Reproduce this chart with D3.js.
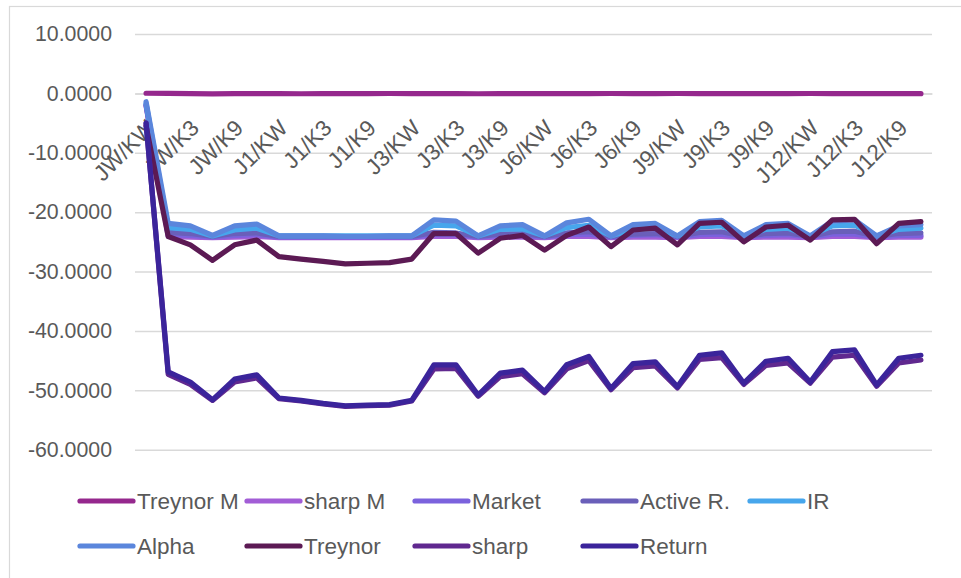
<!DOCTYPE html>
<html>
<head>
<meta charset="utf-8">
<script src="https://cdn.jsdelivr.net/npm/d3@7"></script>
<style>
  html, body { margin: 0; padding: 0; background: #ffffff; }
  svg { display: block; }
  text { font-family: "Liberation Sans", Arial, sans-serif; fill: #595959; }
</style>
</head>
<body>
<svg id="chart" width="961" height="578"></svg>
<script>
// Holding-period (J) / formation-period (K) combinations
const jPeriods = ["JW", "J1", "J3", "J6", "J9", "J12"];
const kPeriods = ["KW", "K1", "K3", "K6", "K9", "K12"];
const categories = jPeriods.flatMap(j => kPeriods.map(k => j + "/" + k));

const yTicks = [10, 0, -10, -20, -30, -40, -50, -60];

const seriesNames = ["Treynor M", "sharp M", "Market", "Active R.", "IR", "Alpha", "Treynor", "sharp", "Return"];
const seriesColors = ["#95288d", "#a25dd6", "#7b62dd", "#6a5fb9", "#47a6ec", "#5b86dc", "#5c1a54", "#60288f", "#3b249b"];

const treynorM = [0.02, 0.0, -0.05, -0.08, -0.05, -0.03, -0.05, -0.06, -0.05, -0.04, -0.03, -0.02,
  -0.04, -0.05, -0.03, -0.06, -0.05, -0.03, -0.04, -0.05, -0.03, -0.02, -0.04, -0.03,
  -0.02, -0.03, -0.04, -0.03, -0.05, -0.03, -0.02, -0.03, -0.04, -0.03, -0.05, -0.04];
const sharpM = [-2.1, -24.1, -24.2, -24.3, -24.2, -24.1, -24.3, -24.3, -24.3, -24.3, -24.3, -24.3,
  -24.3, -24.1, -24.1, -24.3, -24.2, -24.2, -24.3, -24.1, -24.1, -24.3, -24.2, -24.2,
  -24.3, -24.1, -24.1, -24.3, -24.2, -24.2, -24.3, -24.1, -24.1, -24.3, -24.2, -24.2];
const market = [-2.0, -23.8, -23.9, -24.2, -23.9, -23.8, -24.2, -24.2, -24.2, -24.2, -24.2, -24.2,
  -24.2, -23.8, -23.8, -24.2, -23.9, -23.9, -24.2, -23.8, -23.7, -24.2, -23.9, -23.8,
  -24.2, -23.8, -23.7, -24.2, -23.9, -23.8, -24.2, -23.7, -23.7, -24.2, -23.9, -23.9];
const activeR = [-1.9, -23.4, -23.6, -24.1, -23.6, -23.5, -24.1, -24.1, -24.1, -24.1, -24.1, -24.1,
  -24.1, -23.4, -23.5, -24.1, -23.7, -23.6, -24.1, -23.5, -23.3, -24.1, -23.7, -23.6,
  -24.1, -23.4, -23.3, -24.1, -23.6, -23.5, -24.1, -23.3, -23.2, -24.1, -23.6, -23.5];
const ir = [-1.7, -22.6, -22.9, -24.0, -23.0, -22.7, -24.0, -24.0, -24.0, -24.0, -24.0, -24.0,
  -24.0, -22.2, -22.3, -24.0, -22.9, -22.8, -24.0, -22.6, -22.2, -24.0, -22.9, -22.7,
  -24.0, -22.5, -22.3, -24.0, -22.9, -22.7, -24.0, -22.3, -22.2, -24.0, -22.9, -22.7];
const alpha = [-1.4, -21.9, -22.3, -23.9, -22.3, -22.0, -24.0, -24.0, -24.0, -24.1, -24.1, -24.0,
  -24.0, -21.3, -21.5, -24.0, -22.3, -22.1, -24.0, -21.8, -21.2, -24.0, -22.1, -21.9,
  -24.0, -21.6, -21.4, -24.0, -22.1, -21.9, -24.0, -21.5, -21.3, -24.0, -22.3, -22.1];
const treynor = [-5.5, -24.1, -25.5, -28.1, -25.5, -24.7, -27.5, -27.9, -28.3, -28.7, -28.6, -28.5,
  -27.9, -23.6, -23.6, -26.9, -24.4, -23.9, -26.4, -23.9, -22.5, -25.8, -23.0, -22.7,
  -25.5, -21.9, -21.7, -25.0, -22.5, -22.2, -24.7, -21.3, -21.2, -25.3, -21.9, -21.6];
const sharp = [-5.0, -47.3, -49.0, -51.7, -48.6, -47.9, -51.4, -51.8, -52.3, -52.7, -52.6, -52.5,
  -51.8, -46.4, -46.3, -51.0, -47.7, -47.2, -50.4, -46.4, -45.0, -49.9, -46.2, -45.9,
  -49.6, -44.8, -44.5, -49.0, -45.8, -45.4, -48.8, -44.4, -44.1, -49.3, -45.4, -44.9];
const returns = [-5.0, -46.9, -48.6, -51.6, -48.1, -47.4, -51.3, -51.7, -52.2, -52.6, -52.5, -52.4,
  -51.7, -45.7, -45.7, -50.8, -47.1, -46.6, -50.2, -45.7, -44.3, -49.7, -45.5, -45.2,
  -49.4, -44.1, -43.7, -48.8, -45.1, -44.6, -48.6, -43.5, -43.2, -49.1, -44.6, -44.1];

const seriesValues = [treynorM, sharpM, market, activeR, ir, alpha, treynor, sharp, returns];
const series = seriesNames.map((name, i) => ({ name, color: seriesColors[i], values: seriesValues[i] }));

const svg = d3.select("#chart");
const W = 961, H = 578;
const plot = { left: 135, right: 932, top: 34, bottom: 449.7 };

svg.append("rect").attr("width", W).attr("height", H).attr("fill", "#ffffff");
// chart-area frame
svg.append("rect")
  .attr("x", 9.5).attr("y", 6.5).attr("width", W + 20).attr("height", H + 20)
  .attr("fill", "none").attr("stroke", "#d9d9d9").attr("stroke-width", 1.2);

const x = d3.scaleBand().domain(categories).range([plot.left, plot.right]);
const y = d3.scaleLinear().domain([-60, 10]).range([plot.bottom, plot.top]);
const cx = c => x(c) + x.bandwidth() / 2;

// horizontal gridlines + value labels
const yAxis = d3.axisLeft(y).tickValues(yTicks).tickSize(-(plot.right - plot.left)).tickPadding(23)
  .tickFormat(d => d3.format(".4f")(d).replace("\u2212", "-"));
const gy = svg.append("g").attr("transform", `translate(${plot.left},0)`).call(yAxis);
gy.select(".domain").remove();
gy.selectAll(".tick line").attr("stroke", "#d9d9d9").attr("stroke-width", 1.5);
gy.selectAll(".tick text").attr("font-size", 21.3).attr("fill", "#595959");

// category axis at zero
const xAxis = d3.axisBottom(x).tickValues(categories.filter((c, i) => i % 2 === 0)).tickSize(0).tickPadding(0);
const gx = svg.append("g").attr("transform", `translate(0,${y(0)})`).call(xAxis);
gx.select(".domain").attr("stroke", "#d9d9d9").attr("stroke-width", 1.5);
gx.selectAll(".tick text")
  .attr("font-size", 22.5).attr("fill", "#595959")
  .attr("text-anchor", "end").attr("dy", null).attr("y", null)
  .attr("transform", "translate(10,36) rotate(-45)");

// series lines
const line = d3.line().x((d, i) => cx(categories[i])).y(d => y(d));
svg.append("g").selectAll("path").data(series).join("path")
  .attr("d", d => line(d.values))
  .attr("fill", "none").attr("stroke", d => d.color)
  .attr("stroke-width", 5.2).attr("stroke-linejoin", "round").attr("stroke-linecap", "round");

// legend: two rows
const legendX = [80, 247, 415, 583, 750];
const legendY = [501, 546];
const lg = svg.append("g").selectAll("g").data(series).join("g")
  .attr("transform", (d, i) => `translate(${legendX[i % 5]},${legendY[Math.floor(i / 5)]})`);
lg.append("line").attr("x1", 0).attr("x2", 53).attr("y1", 0).attr("y2", 0)
  .attr("stroke", d => d.color).attr("stroke-width", 5.2).attr("stroke-linecap", "round");
lg.append("text").attr("x", 57).attr("y", 0).attr("dy", "0.35em")
  .attr("font-size", 22.5).attr("fill", "#595959").text(d => d.name);
</script>
</body>
</html>
